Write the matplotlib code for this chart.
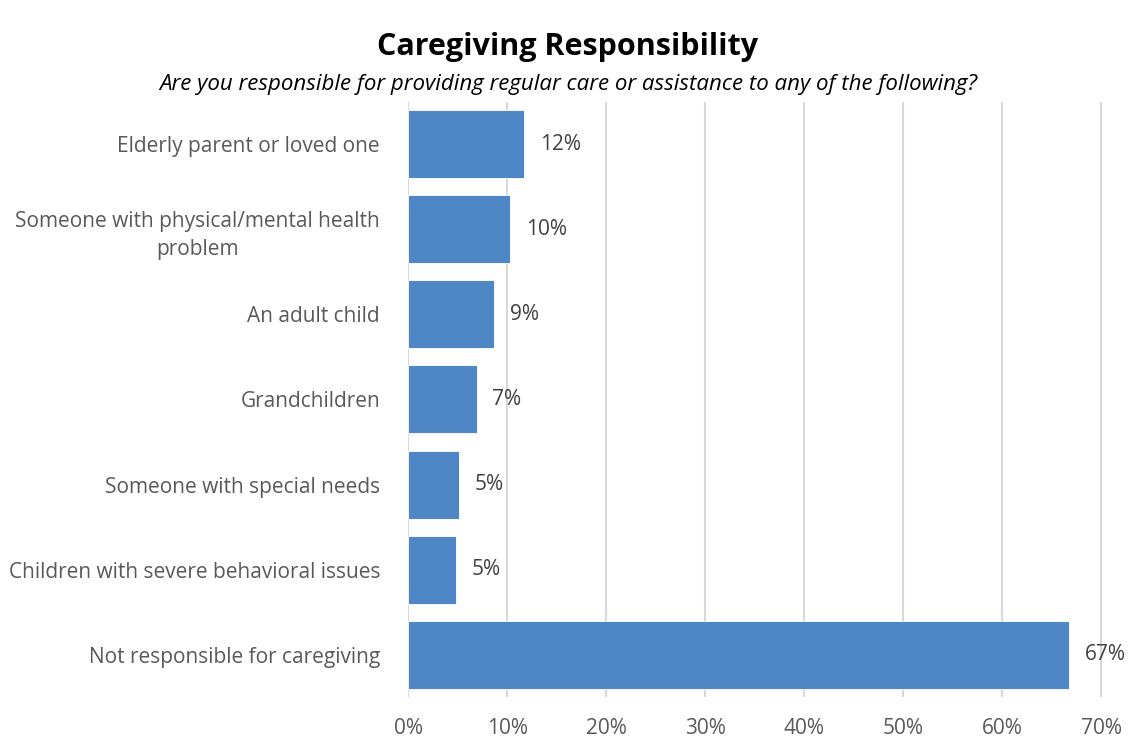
import matplotlib.pyplot as plt
from matplotlib.ticker import FuncFormatter

# survey answers, top to bottom
categories = [
    "Elderly parent or loved one",
    "Someone with physical/mental health\nproblem",
    "An adult child",
    "Grandchildren",
    "Someone with special needs",
    "Children with severe behavioral issues",
    "Not responsible for caregiving",
]
shares = [11.7, 10.3, 8.7, 6.9, 5.1, 4.8, 66.7]
x_ticks = [0, 10, 20, 30, 40, 50, 60, 70]

bar_color = "#4e86c6"
text_color = "#595959"
plt.rcParams["font.family"] = ["Open Sans", "DejaVu Sans"]

fig = plt.figure(figsize=(11.36, 7.42), dpi=100)
ax = fig.add_axes([0.359, 0.0606, 0.611, 0.802])

ypos = list(range(len(categories)))
ax.barh(ypos, shares, height=0.8, color=bar_color, edgecolor="white", linewidth=0.6, zorder=2)

for y, v in zip(ypos, shares):
    ax.text(v + 1.6, y, "{:.0f}%".format(v), va="center", ha="left",
            fontsize=15, color="#404040")

ax.set_ylim(len(categories) - 0.5, -0.5)
ax.set_xlim(-0.05, 70.05)
ax.set_xticks(x_ticks)
ax.xaxis.set_major_formatter(FuncFormatter(lambda v, p: "{:.0f}%".format(v)))
ax.set_yticks(ypos)
ax.set_yticklabels(categories)

ax.tick_params(axis="x", length=0, pad=15, labelsize=15, labelcolor=text_color)
ax.tick_params(axis="y", length=0, pad=20, labelsize=15, labelcolor=text_color)
for lbl in ax.get_yticklabels():
    lbl.set_multialignment("center")
    lbl.set_linespacing(1.45)

ax.grid(axis="x", color="#d9d9d9", linewidth=1.5, zorder=0)
for s in ax.spines.values():
    s.set_visible(False)

fig.text(0.5, 0.937, "Caregiving Responsibility", ha="center", va="center",
         fontsize=22, fontweight="bold", color="black")
fig.text(0.5, 0.886, "Are you responsible for providing regular care or assistance to any of the following?",
         ha="center", va="center", fontsize=16, style="italic", color="black")

fig.savefig("out.png", dpi=100)
